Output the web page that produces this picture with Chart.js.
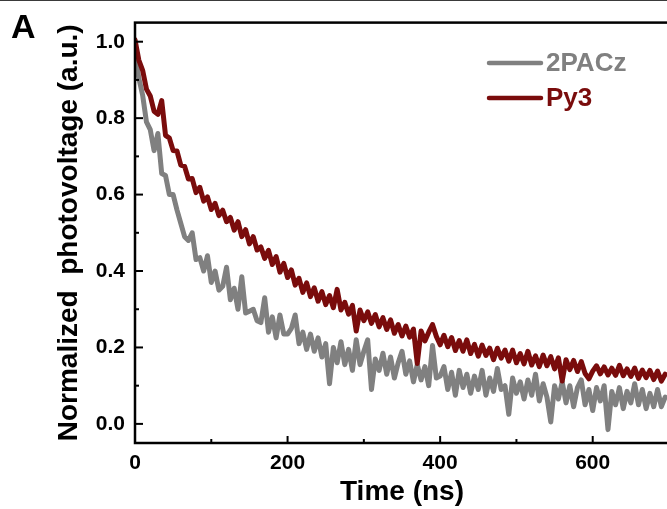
<!DOCTYPE html>
<html><head><meta charset="utf-8">
<script src="https://cdn.jsdelivr.net/npm/chart.js@4.4.0/dist/chart.umd.min.js"></script>
<style>
html,body{margin:0;padding:0;background:#fff;overflow:hidden;}
#wrap{position:relative;width:672px;height:509px;}
</style></head><body>
<div id="wrap"><canvas id="c" width="672" height="509"></canvas></div>
<script>
const times = [
0,5,10,15,20,25,30,35,40,45,
50,55,60,65,70,75,80,85,90,95,
100,105,110,115,120,125,130,135,140,145,
150,155,160,165,170,175,180,185,190,195,
200,205,210,215,220,225,230,235,240,245,
250,255,260,265,270,275,280,285,290,295,
300,305,310,315,320,325,330,335,340,345,
350,355,360,365,370,375,380,385,390,395,
400,405,410,415,420,425,430,435,440,445,
450,455,460,465,470,475,480,485,490,495,
500,505,510,515,520,525,530,535,540,545,
550,555,560,565,570,575,580,585,590,595,
600,605,610,615,620,625,630,635,640,645,
650,655,660,665,670,675,680,685,690,695];

const py3 = [
1.005,0.952,0.925,0.876,0.858,0.818,0.81,0.846,0.755,0.748,
0.715,0.714,0.677,0.674,0.641,0.642,0.605,0.619,0.583,0.594,
0.561,0.577,0.545,0.559,0.529,0.54,0.507,0.529,0.49,0.508,
0.471,0.49,0.455,0.463,0.433,0.454,0.417,0.438,0.397,0.42,
0.383,0.403,0.363,0.381,0.344,0.369,0.333,0.356,0.321,0.346,
0.312,0.336,0.304,0.352,0.298,0.318,0.287,0.31,0.243,0.298,
0.27,0.293,0.263,0.286,0.254,0.278,0.247,0.272,0.237,0.26,
0.23,0.256,0.227,0.248,0.158,0.243,0.217,0.24,0.26,0.229,
0.207,0.232,0.202,0.226,0.192,0.218,0.19,0.22,0.184,0.208,
0.177,0.206,0.179,0.198,0.168,0.198,0.172,0.193,0.164,0.193,
0.16,0.184,0.157,0.19,0.154,0.178,0.15,0.18,0.152,0.176,
0.144,0.173,0.112,0.168,0.142,0.166,0.137,0.163,0.132,0.118,
0.138,0.152,0.131,0.149,0.128,0.146,0.127,0.153,0.126,0.144,
0.124,0.146,0.119,0.141,0.121,0.14,0.116,0.138,0.112,0.13];

const pacz = [
0.97,0.905,0.86,0.79,0.77,0.715,0.76,0.655,0.65,0.60,
0.60,0.56,0.525,0.49,0.48,0.50,0.43,0.435,0.40,0.44,
0.37,0.40,0.35,0.36,0.41,0.325,0.355,0.30,0.385,0.29,
0.295,0.30,0.27,0.265,0.33,0.24,0.28,0.225,0.285,0.235,
0.235,0.25,0.285,0.21,0.24,0.195,0.235,0.19,0.225,0.175,
0.21,0.105,0.20,0.16,0.215,0.155,0.195,0.14,0.22,0.155,
0.19,0.22,0.09,0.17,0.14,0.185,0.13,0.175,0.12,0.16,
0.19,0.13,0.165,0.11,0.155,0.115,0.15,0.10,0.205,0.12,
0.125,0.15,0.09,0.135,0.075,0.14,0.095,0.13,0.08,0.125,
0.09,0.14,0.075,0.12,0.085,0.145,0.09,0.10,0.025,0.12,
0.08,0.11,0.065,0.115,0.075,0.13,0.06,0.105,0.07,0.005,
0.10,0.065,0.11,0.055,0.10,0.045,0.095,0.115,0.05,0.09,
0.035,0.095,0.06,0.10,-0.015,0.085,0.05,0.095,0.04,0.085,
0.055,0.105,0.05,0.09,0.04,0.08,0.045,0.09,0.045,0.07];

const xTickLabels = [0, 200, 400, 600];
const xMinorTicks = [100, 300, 500, 700];
const yTickLabels = [0.0, 0.2, 0.4, 0.6, 0.8, 1.0];
const yMinorTicks = [0.1, 0.3, 0.5, 0.7, 0.9];
const seriesNames = ['2PACz', 'Py3'];
const seriesColors = ['#808080', '#7A0C0C'];

const FONT = "'Liberation Sans', Arial, sans-serif";

function pts(vals){ return times.map((t,i)=>({x:t, y:vals[i]})); }

const decor = {
  id: 'decor',
  beforeDraw(chart){
    const ctx = chart.ctx;
    ctx.save();
    ctx.fillStyle = '#fff';
    ctx.fillRect(0,0,chart.width,chart.height);
    ctx.fillStyle = '#3a3a3a';
    ctx.fillRect(0,0,chart.width,1);
    ctx.restore();
  },
  afterDraw(chart){
    const {ctx, chartArea:a, scales:{x, y}} = chart;
    ctx.save();
    ctx.strokeStyle = '#000';
    ctx.lineWidth = 2.5;
    ctx.strokeRect(a.left, a.top, a.right - a.left, a.bottom - a.top);
    ctx.lineWidth = 2;
    const ln = (x1,y1,x2,y2)=>{ctx.beginPath();ctx.moveTo(x1,y1);ctx.lineTo(x2,y2);ctx.stroke();};
    xTickLabels.forEach(v=>{const p=x.getPixelForValue(v); ln(p,a.bottom,p,a.bottom-7);});
    xMinorTicks.forEach(v=>{const p=x.getPixelForValue(v); ln(p,a.bottom,p,a.bottom-4);});
    yTickLabels.forEach(v=>{const p=y.getPixelForValue(v); ln(a.left,p,a.left+8,p);});
    yMinorTicks.forEach(v=>{const p=y.getPixelForValue(v); ln(a.left,p,a.left+4,p);});
    // legend
    ctx.font = 'bold 26px ' + FONT;
    ctx.textBaseline = 'middle';
    ctx.textAlign = 'left';
    const ly = [63, 98];
    seriesNames.forEach((n,i)=>{
      ctx.strokeStyle = seriesColors[i];
      ctx.lineWidth = 4.5;
      ctx.lineCap = 'round';
      ln(489, ly[i], 541, ly[i]);
      ctx.fillStyle = seriesColors[i];
      ctx.fillText(n, 546, ly[i] + 1);
    });
    // panel letter
    ctx.fillStyle = '#000';
    ctx.font = 'bold 34px ' + FONT;
    ctx.textBaseline = 'alphabetic';
    ctx.fillText('A', 11, 38);
    ctx.restore();
  }
};

new Chart(document.getElementById('c'), {
  type: 'line',
  data: {
    datasets: [
      {label: seriesNames[0], data: pts(pacz), borderColor: seriesColors[0], borderWidth: 5,
       pointRadius: 0, tension: 0, order: 1, borderJoinStyle: 'round', borderCapStyle: 'round'},
      {label: seriesNames[1], data: pts(py3), borderColor: seriesColors[1], borderWidth: 5,
       pointRadius: 0, tension: 0, order: 0, borderJoinStyle: 'round', borderCapStyle: 'round'}
    ]
  },
  options: {
    responsive: false,
    animation: false,
    devicePixelRatio: 1,
    layout: {padding: {top: 12, right: 3, left: 0, bottom: 0}},
    plugins: {legend: {display: false}, tooltip: {enabled: false}},
    scales: {
      x: {
        type: 'linear', min: 0, max: 700,
        afterBuildTicks: s => { s.ticks = xTickLabels.map(v => ({value: v})); },
        afterFit: s => { s.height = 66; },
        grid: {display: false, drawTicks: false},
        border: {display: false},
        ticks: {color: '#000', font: {family: FONT, size: 21, weight: 'bold'}, padding: 8,
                maxRotation: 0, autoSkip: false, callback: v => String(v)},
        title: {display: true, text: 'Time (ns)', color: '#000',
                font: {family: FONT, size: 28, weight: 'bold'}, padding: {top: 0, bottom: 0}}
      },
      y: {
        type: 'linear', min: -0.05, max: 1.05,
        afterBuildTicks: s => { s.ticks = yTickLabels.map(v => ({value: v})); },
        afterFit: s => { s.width = 135; },
        grid: {display: false, drawTicks: false},
        border: {display: false},
        ticks: {color: '#000', font: {family: FONT, size: 21, weight: 'bold'}, padding: 10,
                autoSkip: false, callback: v => Number(v).toFixed(1)},
        title: {display: true, text: 'Normalized  photovoltage (a.u.)', color: '#000',
                font: {family: FONT, size: 28, weight: 'bold'}, padding: {top: 52, bottom: 0}}
      }
    }
  },
  plugins: [decor]
});
</script>
</body></html>
